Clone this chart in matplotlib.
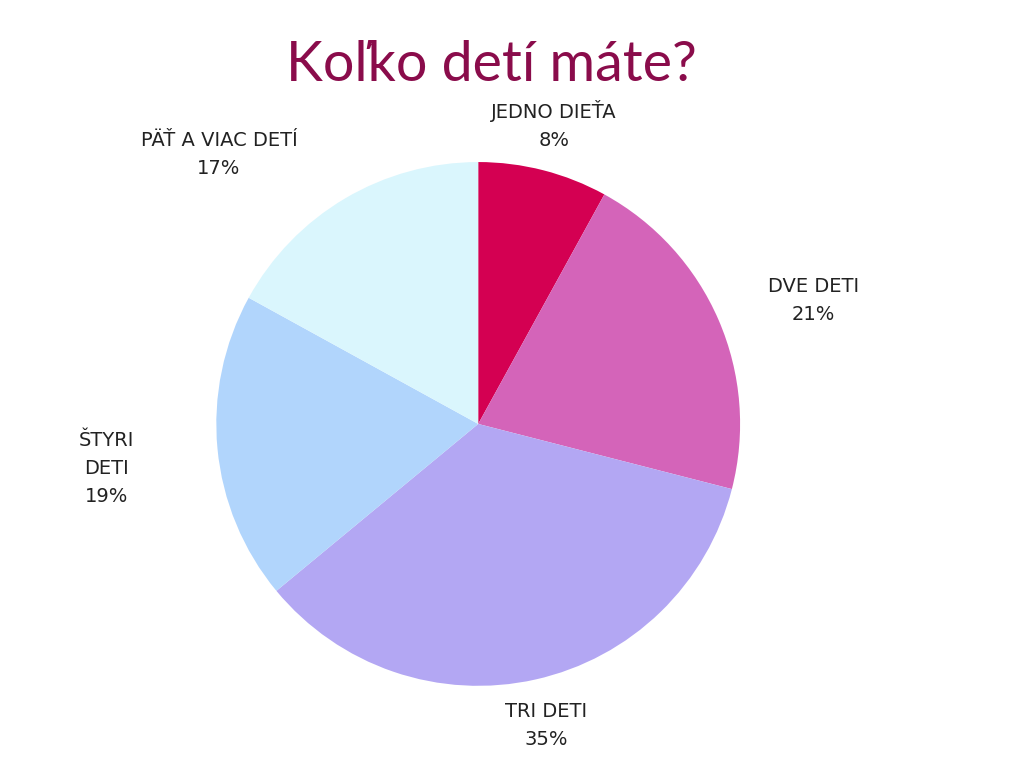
import matplotlib.pyplot as plt

categories = ["JEDNO DIEŤA", "DVE DETI", "TRI DETI", "ŠTYRI\nDETI", "PÄŤ A VIAC DETÍ"]
values = [8, 21, 35, 19, 17]
colors = ["#D40052", "#D464B9", "#B3A7F3", "#B1D5FC", "#DAF6FD"]
# label anchor points in pie-radius units
label_pos = [(0.29, 1.14), (1.28, 0.47), (0.26, -1.15), (-1.42, -0.17), (-0.99, 1.03)]

fig = plt.figure(figsize=(10.24, 7.68), dpi=100)
ax = fig.add_axes([0.467 - 0.256, 0.448 - 0.341, 0.512, 0.682])
wedges, _ = ax.pie(values, colors=colors, startangle=90, counterclock=False,
                   wedgeprops=dict(linewidth=0))
ax.set_xlim(-1, 1)
ax.set_ylim(-1, 1)

for cat, v, (x, y) in zip(categories, values, label_pos):
    ax.text(x, y, f"{cat}\n{v}%", ha="center", va="center", fontsize=14,
            color="#222222", linespacing=1.6, clip_on=False, family="DejaVu Sans")

fig.text(0.48, 0.915, "Koľko detí máte?", ha="center", va="center",
         fontsize=40, color="#8A0C4B", family="Lato")

fig.savefig("out.png", dpi=100)
